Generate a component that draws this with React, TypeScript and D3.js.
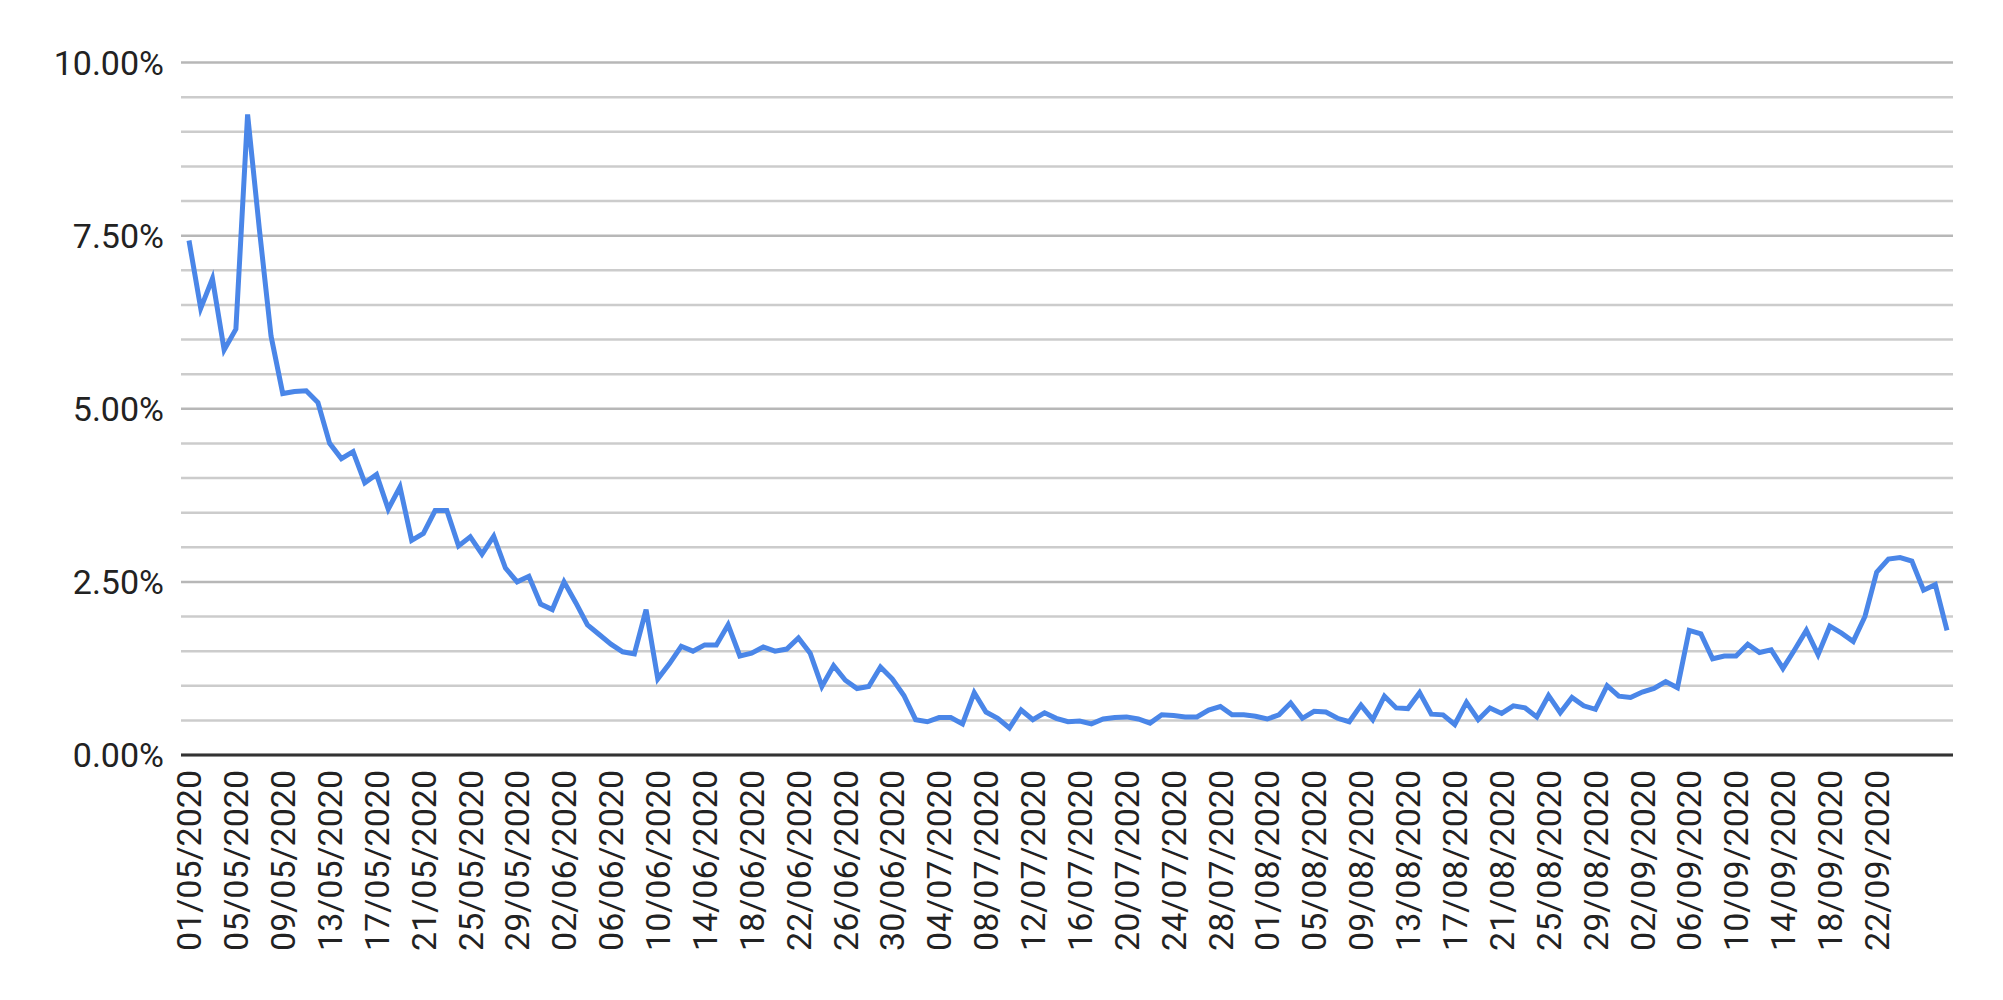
// Line chart: daily positivity rate, May - Sep 2020
import { useRef, useEffect } from 'react';
import * as d3 from "d3";

const days = d3.timeDay.range(new Date(2020, 4, 1), new Date(2020, 8, 29)).map(d3.timeFormat("%d/%m/%Y"));

const rates = [
  7.43, 6.45, 6.88, 5.85, 6.15, 9.25, 7.6, 6.05, 5.22, 5.25,
  5.26, 5.09, 4.5, 4.28, 4.38, 3.93, 4.05, 3.55, 3.87, 3.1,
  3.2, 3.53, 3.53, 3.02, 3.15, 2.9, 3.16, 2.7, 2.5, 2.58,
  2.18, 2.1, 2.5, 2.2, 1.88, 1.74, 1.6, 1.49, 1.46, 2.1,
  1.1, 1.32, 1.57, 1.5, 1.59, 1.59, 1.88, 1.43, 1.47, 1.56,
  1.5, 1.53, 1.69, 1.47, 0.99, 1.29, 1.08, 0.96, 0.99, 1.27,
  1.1, 0.86, 0.51, 0.48, 0.54, 0.54, 0.45, 0.9, 0.62, 0.53,
  0.39, 0.65, 0.51, 0.61, 0.53, 0.48, 0.49, 0.45, 0.52, 0.54,
  0.55, 0.52, 0.46, 0.58, 0.57, 0.55, 0.55, 0.65, 0.7, 0.58,
  0.58, 0.56, 0.52, 0.58, 0.75, 0.53, 0.63, 0.62, 0.53, 0.48,
  0.72, 0.51, 0.85, 0.68, 0.67, 0.9, 0.59, 0.58, 0.44, 0.76,
  0.51, 0.68, 0.6, 0.71, 0.68, 0.55, 0.86, 0.61, 0.83, 0.71,
  0.66, 1.0, 0.85, 0.83, 0.91, 0.96, 1.06, 0.97, 1.8, 1.75,
  1.39, 1.43, 1.43, 1.6, 1.48, 1.52, 1.25, 1.52, 1.8, 1.45,
  1.86, 1.76, 1.64, 2.0, 2.64, 2.83, 2.85, 2.8, 2.38, 2.46,
  1.8
];

const tickLabels = [
  "01/05/2020", "05/05/2020", "09/05/2020", "13/05/2020", "17/05/2020", "21/05/2020",
  "25/05/2020", "29/05/2020", "02/06/2020", "06/06/2020", "10/06/2020", "14/06/2020",
  "18/06/2020", "22/06/2020", "26/06/2020", "30/06/2020", "04/07/2020", "08/07/2020",
  "12/07/2020", "16/07/2020", "20/07/2020", "24/07/2020", "28/07/2020", "01/08/2020",
  "05/08/2020", "09/08/2020", "13/08/2020", "17/08/2020", "21/08/2020", "25/08/2020",
  "29/08/2020", "02/09/2020", "06/09/2020", "10/09/2020", "14/09/2020", "18/09/2020",
  "22/09/2020"
];

const yLabels = [0, 2.5, 5, 7.5, 10];
const yGrid = d3.range(0, 10.25, 0.5);

const App = () => {
  const ref = useRef<SVGSVGElement>(null);

  useEffect(() => {
    const $svg = d3.select(ref.current);
    $svg.selectAll("*").remove();

    const x = d3.scalePoint<string>().domain(days).range([189, 1947]);
    const y = d3.scaleLinear().domain([0, 10]).range([755, 62.5]);

    // gridlines
    $svg.append("g").selectAll("line").data(yGrid).enter().append("line")
      .attr("x1", 181).attr("x2", 1953)
      .attr("y1", d => y(d)).attr("y2", d => y(d))
      .attr("stroke", d => (d % 2.5 === 0 ? "#b7b7b7" : "#cccccc"))
      .attr("stroke-width", 2.5);

    $svg.append("line")
      .attr("x1", 181).attr("x2", 1953).attr("y1", y(0)).attr("y2", y(0))
      .attr("stroke", "#333333").attr("stroke-width", 3);

    // y labels
    $svg.append("g").selectAll("text").data(yLabels).enter().append("text")
      .attr("x", 164).attr("y", d => y(d)).attr("dy", "0.36em")
      .attr("text-anchor", "end")
      .style("font-family", "Roboto").style("font-size", "34px").attr("fill", "#222")
      .text(d => d3.format(".2f")(d) + "%");

    // x labels
    $svg.append("g").selectAll("text").data(tickLabels).enter().append("text")
      .attr("transform", d => "translate(" + x(d) + ",770) rotate(-90)")
      .attr("dy", "0.36em")
      .attr("text-anchor", "end")
      .style("font-family", "Roboto").style("font-size", "34px").attr("fill", "#222")
      .text(d => d);

    const line = d3.line<number>().x((d, i) => x(days[i]) as number).y(d => y(d));
    $svg.append("path").datum(rates)
      .attr("d", line)
      .attr("fill", "none")
      .attr("stroke", "#4a86e8")
      .attr("stroke-width", 5)
      .attr("stroke-linejoin", "miter");
  }, []);

  return <svg ref={ref} width={2003} height={1000}
    style={{ position: "absolute", left: 0, top: 0, background: "white" }} />;
};

export default App;
